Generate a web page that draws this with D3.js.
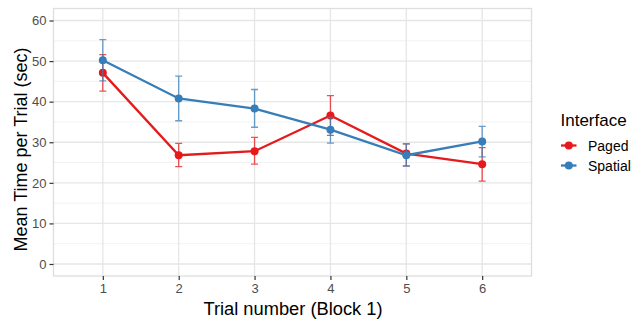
<!DOCTYPE html>
<html>
<head>
<meta charset="utf-8">
<script src="https://cdn.jsdelivr.net/npm/d3@7"></script>
<style>
body { margin: 0; background: #fff; }
svg { font-family: "Liberation Sans", Arial, sans-serif; }
</style>
</head>
<body>
<div id="chart"></div>
<script>
// data
var trials = [1, 2, 3, 4, 5, 6]
var pagedMean = [47.1, 26.8, 27.8, 36.6, 27.2, 24.6]
var pagedLow = [42.6, 24.0, 24.6, 31.7, 24.2, 20.4]
var pagedHigh = [51.6, 29.7, 31.2, 41.5, 29.6, 28.7]
var spatialMean = [50.2, 40.8, 38.3, 33.1, 26.8, 30.2]
var spatialLow = [45.1, 35.3, 33.7, 29.8, 24.1, 26.4]
var spatialHigh = [55.3, 46.3, 43.0, 36.1, 29.6, 33.9]
var yTicks = [0, 10, 20, 30, 40, 50, 60]
var yMinor = [5, 15, 25, 35, 45, 55]

var series = [
    {name: "Paged", color: "#E41A1C", mean: pagedMean, low: pagedLow, high: pagedHigh},
    {name: "Spatial", color: "#377EB8", mean: spatialMean, low: spatialLow, high: spatialHigh}
]

var width = 631, height = 320
var pLeft = 53.5, pRight = 531.5, pTop = 8.5, pBottom = 276

var svg = d3.select("#chart").append("svg").attr("width", width).attr("height", height)

var x = d3.scaleLinear().domain([0.35, 6.65]).range([pLeft, pRight])
var y = d3.scaleLinear().domain([-2.96, 62.96]).range([pBottom, pTop])

// grid
var grid = svg.append("g")
grid.selectAll(".minor").data(yMinor).enter().append("line")
    .attr("x1", pLeft).attr("x2", pRight)
    .attr("y1", function(d){ return y(d) }).attr("y2", function(d){ return y(d) })
    .attr("stroke", "#F2F2F2").attr("stroke-width", 1)
grid.selectAll(".majory").data(yTicks).enter().append("line")
    .attr("x1", pLeft).attr("x2", pRight)
    .attr("y1", function(d){ return y(d) }).attr("y2", function(d){ return y(d) })
    .attr("stroke", "#E6E6E6").attr("stroke-width", 1.3)
grid.selectAll(".majorx").data(trials).enter().append("line")
    .attr("y1", pTop).attr("y2", pBottom)
    .attr("x1", function(d){ return x(d) }).attr("x2", function(d){ return x(d) })
    .attr("stroke", "#E6E6E6").attr("stroke-width", 1.3)
svg.append("rect").attr("x", pLeft).attr("y", pTop).attr("width", pRight - pLeft).attr("height", pBottom - pTop)
    .attr("fill", "none").attr("stroke", "#DEDEDE").attr("stroke-width", 1.3)

// axes
var yAxis = d3.axisLeft(y).tickValues(yTicks).tickSize(4).tickPadding(3)
var xAxis = d3.axisBottom(x).tickValues(trials).tickFormat(d3.format("d")).tickSize(4).tickPadding(4)
var gy = svg.append("g").attr("transform", "translate(" + pLeft + ",0)").call(yAxis)
var gx = svg.append("g").attr("transform", "translate(0," + pBottom + ")").call(xAxis)
;[gx, gy].forEach(function(g){
    g.select(".domain").remove()
    g.selectAll(".tick line").attr("stroke", "#333").attr("stroke-width", 1.2)
    g.selectAll(".tick text").attr("fill", "#4D4D4D").attr("font-size", "13px")
        .attr("font-family", "Liberation Sans, Arial, sans-serif")
})

// series
series.forEach(function(s){
    var g = svg.append("g")
    var pts = trials.map(function(t, i){ return {t: t, m: s.mean[i], lo: s.low[i], hi: s.high[i]} })
    g.selectAll(".err").data(pts).enter().append("path")
        .attr("d", function(d){
            var cx = x(d.t), w = 3.5
            return "M" + (cx - w) + "," + y(d.hi) + "H" + (cx + w) +
                "M" + cx + "," + y(d.hi) + "V" + y(d.lo) +
                "M" + (cx - w) + "," + y(d.lo) + "H" + (cx + w)
        })
        .attr("fill", "none").attr("stroke", s.color).attr("stroke-width", 1.3).attr("opacity", 0.75)
    var line = d3.line().x(function(d){ return x(d.t) }).y(function(d){ return y(d.m) })
    g.append("path").datum(pts).attr("d", line)
        .attr("fill", "none").attr("stroke", s.color).attr("stroke-width", 2.3)
    g.selectAll("circle").data(pts).enter().append("circle")
        .attr("cx", function(d){ return x(d.t) }).attr("cy", function(d){ return y(d.m) })
        .attr("r", 4).attr("fill", s.color)
})

// axis titles
svg.append("text").attr("x", 293).attr("y", 315)
    .attr("text-anchor", "middle").attr("font-size", "18.3px").attr("fill", "#000")
    .text("Trial number (Block 1)")
svg.append("text").attr("transform", "translate(26.5,149.5) rotate(-90)")
    .attr("text-anchor", "middle").attr("font-size", "18px").attr("fill", "#000")
    .text("Mean Time per Trial (sec)")

// legend
var legend = svg.append("g").attr("transform", "translate(560,0)")
legend.append("text").attr("x", 0.5).attr("y", 126).attr("font-size", "17px").attr("fill", "#000").text("Interface")
series.forEach(function(s, i){
    var ly = 145.5 + i * 20
    legend.append("line").attr("x1", 1).attr("x2", 16.5).attr("y1", ly).attr("y2", ly)
        .attr("stroke", s.color).attr("stroke-width", 2.3)
    legend.append("circle").attr("cx", 8.8).attr("cy", ly).attr("r", 4).attr("fill", s.color)
    legend.append("text").attr("x", 28).attr("y", ly + 5).attr("font-size", "14px").attr("fill", "#000").text(s.name)
})
</script>
</body>
</html>
